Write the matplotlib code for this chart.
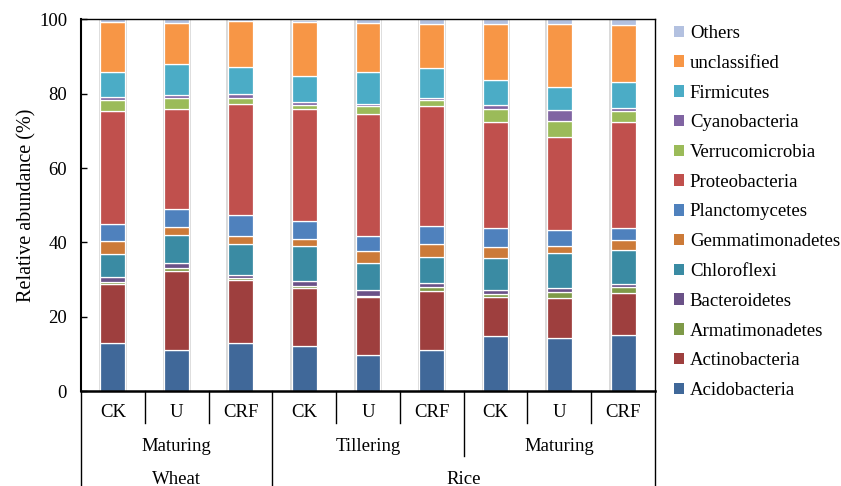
import matplotlib
matplotlib.use("Agg")
import matplotlib.pyplot as plt
from matplotlib.patches import Patch
import numpy as np

plt.rcParams['font.family'] = ['Liberation Serif', 'DejaVu Serif']
plt.rcParams['font.size'] = 13.5

treatments = ["CK", "U", "CRF", "CK", "U", "CRF", "CK", "U", "CRF"]
stages = ["Maturing", "Tillering", "Maturing"]
crops = ["Wheat", "Rice"]

phyla = ["Acidobacteria", "Actinobacteria", "Armatimonadetes", "Bacteroidetes",
         "Chloroflexi", "Gemmatimonadetes", "Planctomycetes", "Proteobacteria",
         "Verrucomicrobia", "Cyanobacteria", "Firmicutes", "unclassified", "Others"]

acidobacteria    = [12.9, 11.0, 12.9, 12.1,  9.6, 11.1, 14.7, 14.4, 15.2]
actinobacteria   = [15.9, 21.3, 17.0, 15.5, 15.7, 15.9, 10.5, 10.6, 11.1]
armatimonadetes  = [ 0.6,  0.8,  0.4,  0.6,  0.2,  0.9,  1.0,  1.6,  1.7]
bacteroidetes    = [ 1.3,  1.3,  0.9,  1.4,  1.6,  1.3,  0.9,  1.1,  0.8]
chloroflexi      = [ 6.2,  7.6,  8.5,  9.4,  7.3,  6.8,  8.7,  9.5,  9.2]
gemmatimonadetes = [ 3.5,  2.1,  2.1,  1.9,  3.4,  3.6,  2.9,  1.8,  2.7]
planctomycetes   = [ 4.5,  4.9,  5.5,  4.9,  3.9,  4.9,  5.1,  4.3,  3.3]
proteobacteria   = [30.5, 27.0, 30.0, 30.1, 32.9, 32.1, 28.6, 25.1, 28.4]
verrucomicrobia  = [ 3.0,  2.8,  1.6,  1.1,  2.0,  1.6,  3.5,  4.3,  3.0]
cyanobacteria    = [ 0.8,  1.0,  1.0,  0.8,  0.6,  0.7,  1.1,  3.0,  0.7]
firmicutes       = [ 6.7,  8.3,  7.4,  7.1,  8.6,  8.0,  6.6,  6.2,  7.0]
unclassified     = [13.5, 11.0, 12.2, 14.5, 13.3, 12.0, 15.3, 17.0, 15.5]
others           = [ 0.6,  0.9,  0.6,  0.6,  0.9,  1.1,  1.1,  1.1,  1.4]

series = [acidobacteria, actinobacteria, armatimonadetes, bacteroidetes,
          chloroflexi, gemmatimonadetes, planctomycetes, proteobacteria,
          verrucomicrobia, cyanobacteria, firmicutes, unclassified, others]

colors = ["#406899", "#9E3F3E", "#7E9A48", "#6A5187", "#3A8BA3", "#CC7A38",
          "#4F81BD", "#C0504D", "#9BBB59", "#8064A2", "#4BACC6", "#F79646",
          "#B3C1E0"]

W, H = 841, 486
fig = plt.figure(figsize=(W / 100, H / 100), dpi=100)
ax = fig.add_axes([81 / W, (H - 391) / H, (655 - 81) / W, (391 - 19.5) / H])

x = np.arange(len(treatments))
bw = 0.39
totals = np.sum(np.array(series), axis=0)
# faint grey halo behind each stacked column
ax.bar(x, totals + 0.3, width=bw + 0.05, color="#DADADA", linewidth=0, zorder=1)
bottom = np.zeros(len(treatments))
for vals, col in zip(series, colors):
    ax.bar(x, vals, width=bw, bottom=bottom, color=col, edgecolor="white",
           linewidth=0.9, zorder=2)
    bottom += np.array(vals)

ax.set_xlim(-0.5, len(treatments) - 0.5)
ax.set_ylim(0, 100)
ax.set_yticks(np.arange(0, 101, 20))
ax.tick_params(axis="y", direction="in", length=4, width=1, pad=10)
ax.set_xticks([])
for s in ax.spines.values():
    s.set_linewidth(1.0)
ax.spines["left"].set_linewidth(1.5)
ax.spines["bottom"].set_linewidth(1.8)
ax.set_ylabel("Relative abundance (%)", fontsize=14.5, labelpad=2)

# hierarchical category axis
trans = ax.get_xaxis_transform()
ah = 391 - 19.5


def yf(px):
    return (391 - px) / ah


for i, t in enumerate(treatments):
    ax.text(i, yf(412), t, transform=trans, ha="center", va="center")
for i in range(1, len(treatments)):
    if i == 3:
        end = 490
    elif i == 6:
        end = 456
    else:
        end = 423
    ax.plot([i - 0.5, i - 0.5], [0, yf(end)], transform=trans, color="black",
            lw=1.0, clip_on=False)
for xe in (-0.5, len(treatments) - 0.5):
    ax.plot([xe, xe], [0, yf(490)], transform=trans, color="black", lw=1.0,
            clip_on=False)
for j, st in enumerate(stages):
    ax.text(3 * j + 1, yf(446), st, transform=trans, ha="center", va="center")
ax.text(1, yf(479), crops[0], transform=trans, ha="center", va="center")
ax.text(5.5, yf(479), crops[1], transform=trans, ha="center", va="center")

handles = [Patch(facecolor=c, edgecolor="none", label=n)
           for n, c in zip(phyla, colors)]
fig.legend(handles[::-1], phyla[::-1], loc="upper left",
           bbox_to_anchor=(674 / W, (H - 25) / H), frameon=False,
           handlelength=0.55, handleheight=0.55, handletextpad=0.3,
           labelspacing=0.68, borderpad=0, borderaxespad=0)

fig.savefig("out.png", dpi=100)
